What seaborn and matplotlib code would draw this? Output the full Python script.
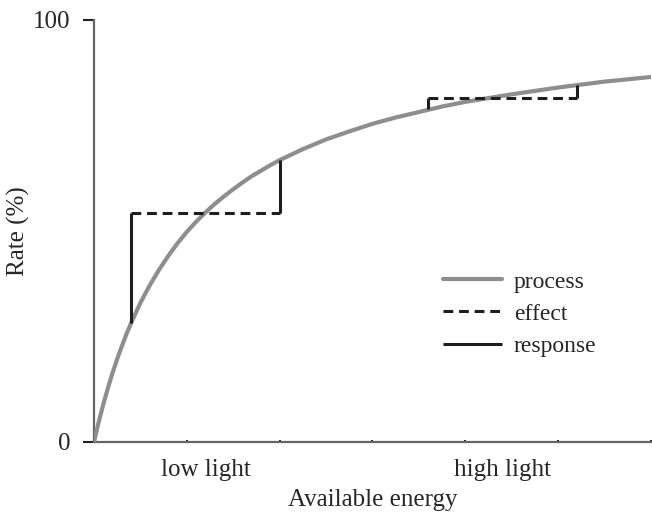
import numpy as np
import pandas as pd
import matplotlib
matplotlib.use("Agg")
import matplotlib.pyplot as plt
import seaborn as sns

# curve values
energy = [0, 0.05, 0.1, 0.15, 0.2, 0.25, 0.3, 0.35, 0.4, 0.5, 0.6, 0.7, 0.8,
          0.9, 1.0, 1.1, 1.2, 1.3, 1.4, 1.5, 1.6, 1.7, 1.8, 1.9, 2.0, 2.25,
          2.5, 2.75, 3.0, 3.25, 3.5, 3.75, 4.0, 4.5, 5.0, 5.5, 6.0]
rate = [0, 4.7, 8.9, 12.8, 16.4, 19.7, 22.7, 25.6, 28.2, 33.0, 37.1, 40.8,
        44.1, 47.1, 49.8, 52.2, 54.4, 56.4, 58.2, 59.9, 61.5, 63.0, 64.3,
        65.6, 66.8, 69.4, 71.7, 73.6, 75.4, 76.9, 78.2, 79.5, 80.6, 82.4,
        84.0, 85.4, 86.5]

# effect (dashed) and response (solid) segments
effect_x0 = [0.4, 3.6]
effect_x1 = [2.0, 5.2]
effect_y = [54.3, 81.5]
resp_x = [0.4, 2.0, 3.6, 5.2]
resp_y0 = [28.2, 54.3, 78.8, 81.5]
resp_y1 = [54.3, 66.8, 81.5, 84.6]

tick_pos = [1.2, 4.4]
tick_labels = ["low light", "high light"]

sns.set_style("white")
plt.rcParams["font.family"] = ["Liberation Serif", "DejaVu Serif"]

fig = plt.figure(figsize=(6.52, 5.14), dpi=100)
ax = fig.add_axes([94 / 652, 72 / 514, 557 / 652, 422 / 514])

df = pd.DataFrame({"energy": energy, "rate": rate})
sns.lineplot(data=df, x="energy", y="rate", ax=ax, color="#8e8e8e", lw=3.0,
             label="process", zorder=3, solid_joinstyle="round")
ax.hlines(effect_y, effect_x0, effect_x1, colors="#1e1e1e", lw=2.2,
          linestyles=(0, (3.2, 1.9)), label="effect", zorder=4)
ax.vlines(resp_x, resp_y0, resp_y1, colors="#1e1e1e", lw=2.2,
          label="response", zorder=4)

ax.set_xlim(0, 6)
ax.set_ylim(0, 100)
ax.set_yticks([0, 100])
ax.set_yticklabels(["0", "100"], fontsize=18)
ax.set_xticks(tick_pos)
ax.set_xticklabels(tick_labels, fontsize=18)
ax.set_xticks(range(0, 7), minor=True)
ax.tick_params(axis="x", which="major", length=0, pad=12, bottom=True)
ax.tick_params(axis="x", which="minor", length=1.2, width=1.5, direction="in",
               color="#222222", bottom=True)
ax.tick_params(axis="y", which="major", length=8, width=1.5, color="#222222",
               pad=9, left=True)
ax.set_xlabel("Available energy", fontsize=18, labelpad=6)
ax.set_ylabel("Rate (%)", fontsize=18, labelpad=2)

for s in ["top", "right"]:
    ax.spines[s].set_visible(False)
for s in ["left", "bottom"]:
    ax.spines[s].set_color("#666666")
    ax.spines[s].set_linewidth(1.6)

ax.legend(loc="upper left", bbox_to_anchor=(443 / 652, 1 - 271 / 514),
          bbox_transform=fig.transFigure, frameon=False, fontsize=17,
          borderpad=0, borderaxespad=0, handlelength=2.5, handletextpad=0.5,
          labelspacing=0.45)

fig.savefig("out.png", dpi=100)
